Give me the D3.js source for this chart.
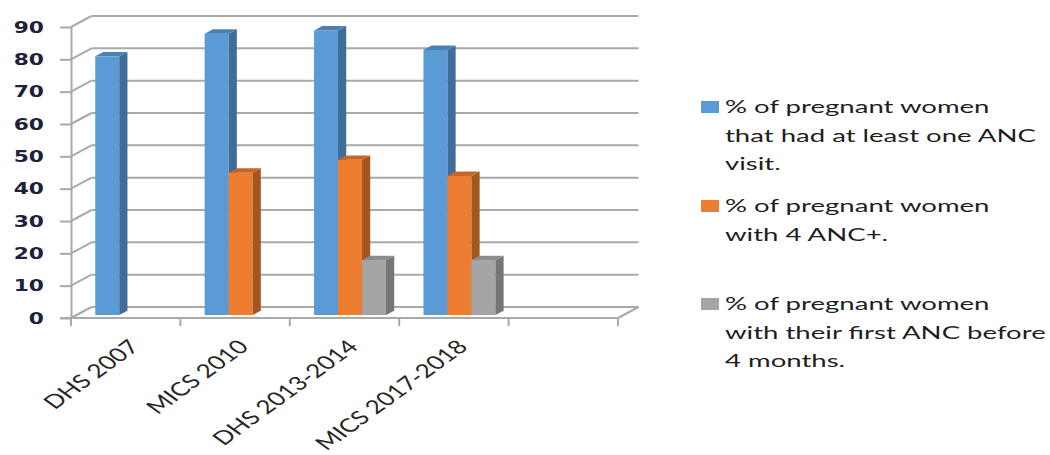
<!DOCTYPE html>
<html>
<head>
<meta charset="utf-8">
<script src="https://cdn.jsdelivr.net/npm/d3@7"></script>
<style>
  body { margin: 0; background: #fff; }
  svg { display: block; }
</style>
</head>
<body>
<svg id="chart" width="1050" height="455"></svg>
<script>
// Survey rounds (the axis keeps one extra empty slot on the right)
const categories = ["DHS 2007", "MICS 2010", "DHS 2013-2014", "MICS 2017-2018"];
const slots = categories.concat([""]);

// Series values, in percent
const atLeastOneANC = [80, 87, 88, 82];
const fourPlusANC = [null, 44, 48, 43];
const firstANCBefore4Months = [null, null, 17, 17];

const yTicks = [0, 10, 20, 30, 40, 50, 60, 70, 80, 90];

const legendLines = [
  ["% of pregnant women", "that had at least one ANC", "visit."],
  ["% of pregnant women", "with 4 ANC+."],
  ["% of pregnant women", "with their first ANC before", "4 months."]
];

const series = [
  { values: atLeastOneANC, front: "#5B9BD5", side: "#3F6C98", top: "#4A80B4" },
  { values: fourPlusANC, front: "#ED7D31", side: "#A4561F", top: "#C56628" },
  { values: firstANCBefore4Months, front: "#A5A5A5", side: "#767676", top: "#8C8C8C" }
];

// Text in this chart is drawn wide
const STRETCH = 1.45;
const LEGEND_STRETCH = 1.62;

const svg = d3.select("#chart");

// Front plane scales; depth is an oblique offset toward the back wall
const x = d3.scaleBand().domain(slots).range([71, 618]).padding(0);
const y = d3.scaleLinear().domain([0, 90]).range([318, 27]);
const DX = 20.5, DY = -11;
const proj = (px, v, z) => [px + z * DX, y(v) + z * DY];

const inner = d3.scaleBand().domain([0, 1, 2]).range([0, x.bandwidth()])
  .paddingInner(0).paddingOuter(0.78);

const gridColor = "#A9A9A9";
const grid = svg.append("g").attr("stroke", gridColor).attr("stroke-width", 2).attr("fill", "none");

const x0 = x.range()[0], x1 = x.range()[1];
yTicks.forEach(t => {
  // back wall line
  const a = proj(x0, t, 1), b = proj(x1, t, 1);
  grid.append("line").attr("x1", a[0]).attr("y1", a[1]).attr("x2", b[0]).attr("y2", b[1]);
  // side wall line
  const c = proj(x0, t, 0);
  grid.append("line").attr("x1", c[0]).attr("y1", c[1]).attr("x2", a[0]).attr("y2", a[1]);
});
// floor right edge
{
  const a = proj(x1, 0, 0), b = proj(x1, 0, 1);
  grid.append("line").attr("x1", a[0]).attr("y1", a[1]).attr("x2", b[0]).attr("y2", b[1]);
}

// Value axis
const yAxis = svg.append("g")
  .attr("transform", `translate(${x0},0)`)
  .call(d3.axisLeft(y).tickValues(yTicks).tickSize(11).tickSizeOuter(0));
yAxis.select(".domain").attr("stroke", gridColor).attr("stroke-width", 2);
yAxis.selectAll(".tick line").attr("stroke", gridColor).attr("stroke-width", 2);
yAxis.selectAll(".tick text")
  .attr("x", null).attr("dy", null)
  .attr("transform", `translate(-27,0) scale(${STRETCH},1)`)
  .attr("dominant-baseline", "central")
  .attr("text-anchor", "end")
  .attr("font-family", "DejaVu Sans")
  .attr("font-weight", "bold")
  .attr("font-size", 15)
  .attr("fill", "#202038");

// Category axis line with ticks between categories
const xAxis = svg.append("g").attr("stroke", gridColor).attr("stroke-width", 2);
xAxis.append("line").attr("x1", 60).attr("x2", x1).attr("y1", y(0)).attr("y2", y(0));
slots.forEach(s => {
  const px = x(s);
  xAxis.append("line").attr("x1", px).attr("x2", px).attr("y1", y(0)).attr("y2", y(0) + 8);
});
xAxis.append("line").attr("x1", x1).attr("x2", x1).attr("y1", y(0)).attr("y2", y(0) + 8);

// 3D bars
const fz = 0.27, bd = 0.4;
const bars = svg.append("g");
categories.forEach((cat, ci) => {
  series.forEach((s, si) => {
    const v = s.values[ci];
    if (v == null) return;
    const xl = x(cat) + inner(si) + fz * DX;
    const xr = xl + inner.bandwidth();
    const yt = y(v) + fz * DY, yb = y(0) + fz * DY;
    const ddx = bd * DX, ddy = bd * DY;
    const g = bars.append("g");
    g.append("rect").attr("x", xl).attr("y", yt).attr("width", xr - xl).attr("height", yb - yt)
      .attr("fill", s.front);
    g.append("polygon")
      .attr("points", [[xr, yt], [xr + ddx, yt + ddy], [xr + ddx, yb + ddy], [xr, yb]].join(" "))
      .attr("fill", s.side);
    g.append("polygon")
      .attr("points", [[xl, yt], [xr, yt], [xr + ddx, yt + ddy], [xl + ddx, yt + ddy]].join(" "))
      .attr("fill", s.top);
  });
});

// Category labels, rotated
svg.append("g").selectAll("text").data(categories).join("text")
  .attr("transform", d => `translate(${x(d) + x.bandwidth() / 2 + 15},${y(0) + 30}) scale(1.38,1) rotate(-45)`)
  .attr("text-anchor", "end")
  .attr("font-family", "Lato")
  .attr("font-size", 19)
  .attr("fill", "#262626")
  .text(d => d);

// Legend
const legendBaselines = [113, 212, 310];
const lineGap = 28.5;
const legend = svg.append("g");
legendLines.forEach((lines, i) => {
  const by = legendBaselines[i];
  legend.append("rect").attr("x", 701).attr("y", by - 12).attr("width", 18).attr("height", 12)
    .attr("fill", series[i].front);
  lines.forEach((ln, j) => {
    legend.append("text")
      .attr("transform", `translate(725,${by + j * lineGap}) scale(${LEGEND_STRETCH},1)`)
      .attr("font-family", "Lato")
      .attr("font-size", 17)
      .attr("fill", "#1E1E1E")
      .text(ln);
  });
});
</script>
</body>
</html>
